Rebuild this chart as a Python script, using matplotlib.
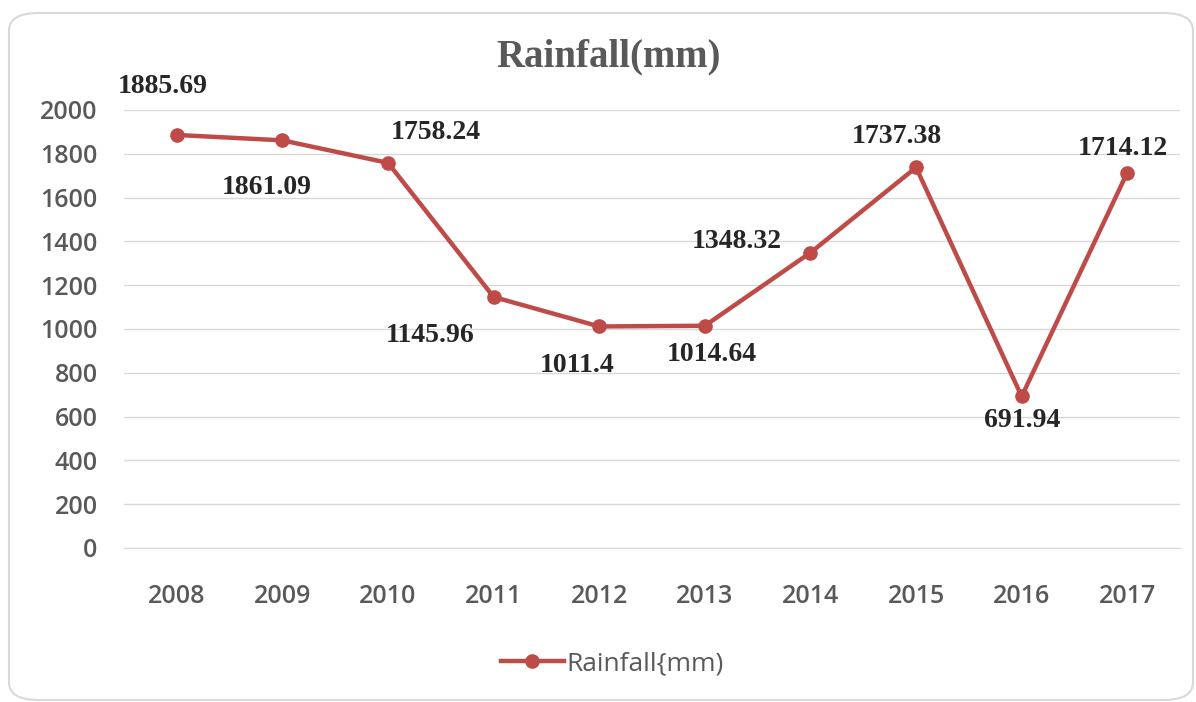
import matplotlib.pyplot as plt
from matplotlib.patches import FancyBboxPatch

# data
years = ['2008', '2009', '2010', '2011', '2012', '2013', '2014', '2015', '2016', '2017']
rainfall = [1885.69, 1861.09, 1758.24, 1145.96, 1011.4, 1014.64, 1348.32, 1737.38, 691.94, 1714.12]
value_labels = ['1885.69', '1861.09', '1758.24', '1145.96', '1011.4', '1014.64',
                '1348.32', '1737.38', '691.94', '1714.12']
# label offsets in pixels (dx, dy)
offsets = [(-14, 48), (-16, -47), (48, 30), (-64, -39), (-22, -39),
           (7, -29), (-74, 11), (-19, 31), (1, -24), (-4, 24)]

red = '#BE4B48'
grey = '#595959'

fig = plt.figure(figsize=(11.96, 7.02), dpi=100)
ax = fig.add_axes([0.1037, 0.2194, 0.883, 0.624])

# rounded chart border
border = FancyBboxPatch((9 / 1196, 2 / 702), 1184 / 1196, 687 / 702,
                        boxstyle='round,pad=0,rounding_size=0.025',
                        transform=fig.transFigure, facecolor='white',
                        edgecolor='#D9D9D9', linewidth=1.5, zorder=-10)
fig.patches.append(border)
ax.set_facecolor('none')

x = list(range(len(years)))
ax.plot(x, rainfall, color=red, linewidth=3.2, marker='o', markersize=9.5,
        label='Rainfall{mm)', zorder=3)

for xi, yi, txt, (dx, dy) in zip(x, rainfall, value_labels, offsets):
    ax.annotate(txt, (xi, yi), xytext=(dx, dy), textcoords='offset pixels',
                ha='center', va='center', fontsize=20, fontweight='bold',
                family='Liberation Serif', color='#262626')

ax.set_xlim(-0.5, len(years) - 0.5)
ax.set_ylim(0, 2000)
ax.set_yticks(range(0, 2001, 200))
ax.set_xticks(x)
ax.set_xticklabels(years)
ax.grid(axis='y', color='#D9D9D9', linewidth=1)
ax.set_axisbelow(True)
for s in ['top', 'right', 'left']:
    ax.spines[s].set_visible(False)
ax.spines['bottom'].set_color('#D9D9D9')
ax.tick_params(length=0, labelsize=18, labelcolor=grey)
ax.tick_params(axis='x', pad=26)
ax.tick_params(axis='y', pad=19)
for lbl in ax.get_xticklabels() + ax.get_yticklabels():
    lbl.set_family('Open Sans')
    lbl.set_fontweight('semibold')

fig.text(0.509, 0.919, 'Rainfall(mm)', ha='center', va='center', fontsize=28,
         fontweight='bold', family='Liberation Serif', color=grey)

leg = fig.legend(loc='center', bbox_to_anchor=(0.512, 0.055), frameon=False,
                 prop={'family': 'Open Sans', 'size': 19}, handlelength=2.4,
                 handletextpad=0.1)
for t in leg.get_texts():
    t.set_color(grey)

fig.savefig('out.png', dpi=100)
